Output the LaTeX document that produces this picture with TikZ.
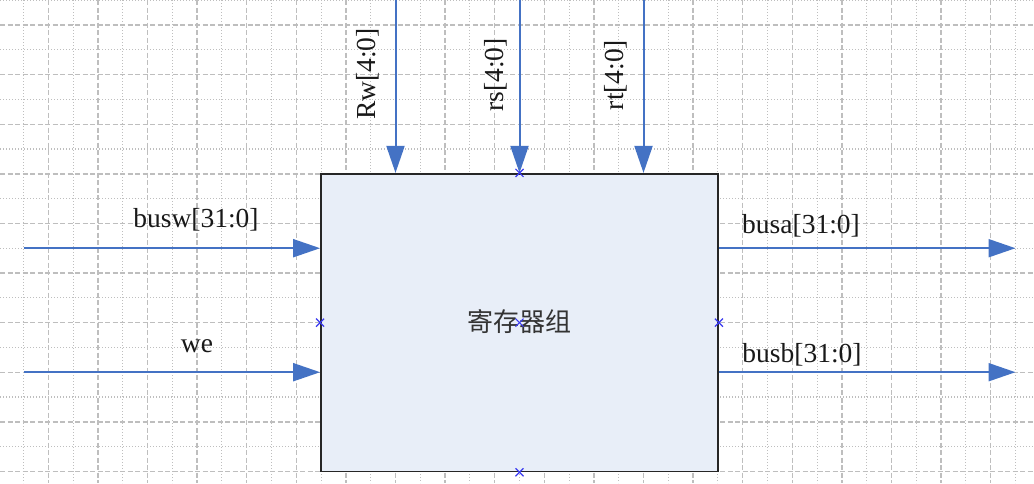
\documentclass[tikz,border=0pt]{standalone}
\usepackage{fontspec}
\setmainfont{Liberation Serif}
\newfontfamily\cjk{Noto Sans CJK SC}
\usetikzlibrary{arrows.meta}
\definecolor{gridc}{HTML}{BEBEBE}
\definecolor{wirec}{HTML}{4472C4}
\definecolor{boxfill}{HTML}{E8EEF8}
\definecolor{markc}{HTML}{3A3AF0}
\begin{document}
\begin{tikzpicture}[x=1pt,y=-1pt,
  majorgrid/.style={draw=gridc,line width=1.4pt,dash pattern=on 5pt off 2.5pt},
  minorgrid/.style={draw=gridc,line width=1.1pt,dash pattern=on 1.2pt off 1.8pt},
  wire/.style={draw=wirec,line width=2pt,-{Triangle[length=27pt,width=18pt]}},
  lbl/.style={font=\fontsize{27.5}{30}\selectfont,inner sep=0pt,text=black!90},
  regbox/.style={draw=black!85,line width=1.8pt,fill=boxfill,minimum width=397pt,minimum height=297.6pt,inner sep=0pt},
  cmark/.style={draw=markc,line width=1.2pt}
]
\useasboundingbox (0,0) rectangle (1034,483);
\fill[white] (0,0) rectangle (1034,483);
% grid
\foreach \k in {-1,...,20} {
  \draw[minorgrid] ({23.5+49.6*\k},0) -- ({23.5+49.6*\k},483);
  \draw[majorgrid] ({48.3+49.6*\k},0) -- ({48.3+49.6*\k},483);
}
\foreach \k in {0,...,10} {
  \draw[minorgrid] (0,{0.2+49.6*\k}) -- (1034,{0.2+49.6*\k});
  \draw[majorgrid] (0,{25+49.6*\k}) -- (1034,{25+49.6*\k});
}
% register box
\node[regbox] (reg) at (519.5,322.6) {};
\node[lbl,font=\cjk\fontsize{26}{30}\selectfont,text=black!80] (regname) at (519.5,322) {寄存器组};
% free ends
\coordinate (bwin) at (23.5,248.2);
\coordinate (wein) at (23.5,372.2);
\coordinate (rwin) at (395.5,0);
\coordinate (rsin) at (519.5,0);
\coordinate (rtin) at (643.5,0);
\coordinate (baout) at (1015.5,248.2);
\coordinate (bbout) at (1015.5,372.2);
% wires
\draw[wire] (bwin) -- (bwin -| reg.west);
\draw[wire] (wein) -- (wein -| reg.west);
\draw[wire] (rwin) -- (rwin |- reg.north);
\draw[wire] (rsin) -- (rsin |- reg.north);
\draw[wire] (rtin) -- (rtin |- reg.north);
\draw[wire] (baout -| reg.east) -- (baout);
\draw[wire] (bbout -| reg.east) -- (bbout);
% labels
\node[lbl,anchor=base] (lbusw) at (196,227) {busw[31:0]};
\node[lbl,anchor=base] (lwe) at (197,352) {we};
\node[lbl,anchor=base] (lbusa) at (801,233) {busa[31:0]};
\node[lbl,anchor=base] (lbusb) at (802,362) {busb[31:0]};
\node[lbl,rotate=90] (lrw) at (368,74) {Rw[4:0]};
\node[lbl,rotate=90] (lrs) at (496,75) {rs[4:0]};
\node[lbl,rotate=90] (lrt) at (616,75) {rt[4:0]};
% connection markers
\foreach \p in {reg.west,reg.center,reg.east,reg.north,reg.south} {
  \draw[cmark] ([shift={(-4,-4)}]\p) -- ([shift={(4,4)}]\p);
  \draw[cmark] ([shift={(-4,4)}]\p) -- ([shift={(4,-4)}]\p);
}
\end{tikzpicture}
\end{document}
